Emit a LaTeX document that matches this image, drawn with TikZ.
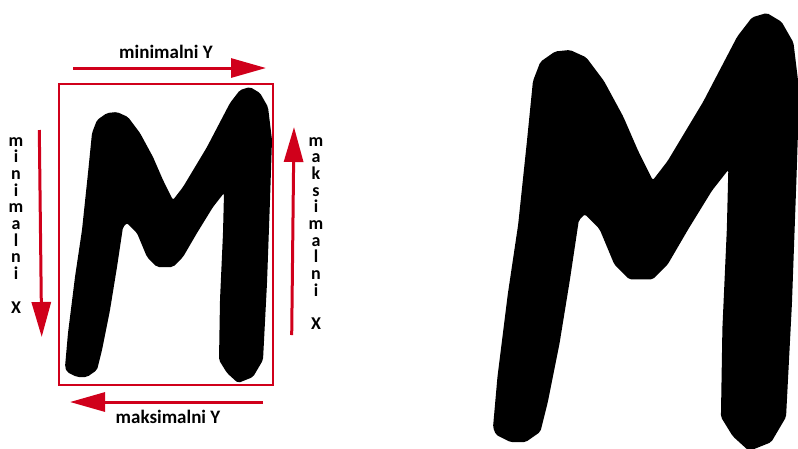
\documentclass[tikz,border=0pt]{standalone}
\usepackage{fontspec}
\setmainfont{Carlito}
\usetikzlibrary{arrows.meta}
\definecolor{arrred}{RGB}{208,0,27}

\begin{document}
\begin{tikzpicture}[x=1pt,y=-1pt,
    arr/.style={draw=arrred,line width=3pt,-{Triangle[length=35pt,width=19pt]}},
    box/.style={draw=arrred,line width=2pt,minimum width=214pt,minimum height=301pt,inner sep=0pt},
    lbl/.style={font=\fontsize{19}{16.7}\selectfont\bfseries,inner sep=0pt,anchor=base},
    vlbl/.style={lbl,font=\fontsize{18}{16.7}\selectfont\bfseries,align=center,anchor=north}]
  \useasboundingbox (0,0) rectangle (798,448);
  % the letter, small and enlarged
  \foreach \s/\dx/\dy in {1/0/0,1.48/396.8/-115.8}
    \fill[black,rounded corners=2pt,shift={(\dx,\dy)},scale=\s]
      (65,367) -- (68,333) -- (75,277) -- (82,230) -- (88,173) -- (92,133) -- (97,120)
      -- (107,113) -- (117,112) -- (128,117) -- (140,133) -- (153,157) -- (163,180)
      -- (173,200) -- (183,187) -- (207,147) -- (230,103) -- (240,90) -- (250,87)
      -- (260,93) -- (268,107) -- (272,140) -- (270,200) -- (267,283) -- (263,360)
      -- (253,377) -- (238,383) -- (227,373) -- (219,360) -- (220,300) -- (223,233)
      -- (224,193) -- (213,207) -- (197,233) -- (183,257) -- (173,267) -- (157,267)
      -- (147,257) -- (137,233) -- (127,223) -- (123,227) -- (117,267) -- (110,310)
      -- (102,350) -- (97,370) -- (87,377) -- (77,377) -- (67,372) -- cycle;
  \node[box] (bbox) at (166,234.5) {};
  % arrow ends
  \coordinate (minYa) at (73,68);   \coordinate (minYb) at (266,68);
  \coordinate (maxYa) at (263,402); \coordinate (maxYb) at (70,402);
  \coordinate (minXa) at (39.3,130); \coordinate (minXb) at (41.7,337);
  \coordinate (maxXa) at (291.7,335); \coordinate (maxXb) at (294,127);
  \draw[arr] (minYa) -- (minYb);
  \draw[arr] (maxYa) -- (maxYb);
  \draw[arr] (minXa) -- (minXb);
  \draw[arr] (maxXa) -- (maxXb);
  \node[lbl] (tminY) at (166,58) {minimalni Y};
  \node[lbl] (tmaxY) at (168,423) {maksimalni Y};
  \node[vlbl] (tminX) at (16,137) {m\\i\\n\\i\\m\\a\\l\\n\\i\\[16.7pt]X};
  \node[vlbl] (tmaxX) at (316,137) {m\\a\\k\\s\\i\\m\\a\\l\\n\\i\\[16.7pt]X};
\end{tikzpicture}
\end{document}
